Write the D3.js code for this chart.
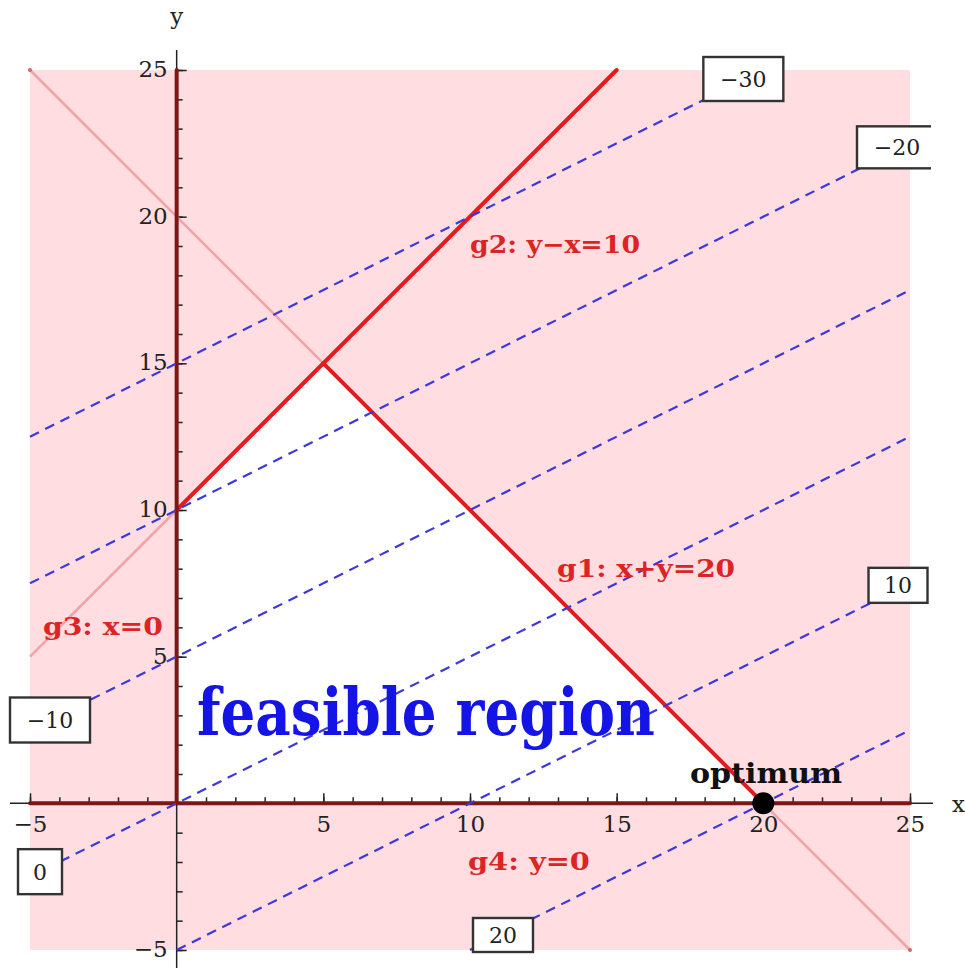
<!DOCTYPE html>
<html>
<head>
<meta charset="utf-8">
<script src="https://cdn.jsdelivr.net/npm/d3@7"></script>
<style>
  body { margin: 0; background: #fff; }
  svg text { font-family: "DejaVu Serif", "Liberation Serif", serif; }
</style>
</head>
<body>
<div id="graphic"></div>
<script>
// data
var xTicks = [-5, 5, 10, 15, 20, 25];
var yTicks = [-5, 5, 10, 15, 20, 25];
var minorTicks = d3.range(-5, 26, 1);
var contourLevels = [-30, -20, -10, 0, 10, 20];          // values of x - 2y
var contourLabelEnd = ["end", "end", "start", "start", "end", "start"];
var feasibleVertices = [[0, 0], [0, 10], [5, 15], [20, 0]];
var constraintNames = ["g1: x+y=20", "g2: y\u2212x=10", "g3: x=0", "g4: y=0"];
var constraintSolid = [[[5, 15], [20, 0]], [[0, 10], [15, 25]], [[0, 0], [0, 25]], [[-5, 0], [25, 0]]];
var constraintFaint = [[[-5, 25], [25, -5]], [[-5, 5], [0, 10]], [], []];
var optimum = [20, 0];

// layout (pixels), not data
var W = 965, H = 968;
var boxLayout = [
  {dx: -20, dy: 9, w: 80, h: 44},
  {dx: -13, dy: 4, w: 80, h: 42},
  {dx: 20, dy: -10, w: 80, h: 45},
  {dx: 10, dy: -5, w: 44, h: 45},
  {dx: -12, dy: 2, w: 59, h: 35},
  {dx: 33, dy: -15, w: 60, h: 34}
];
var constraintLabelPos = [[12.97, 7.72, 178], [10.0, 18.75, 170], [-4.56, 5.74, 120], [9.93, -2.27, 122]];

var svg = d3.select("#graphic").append("svg")
        .attr("width", W)
        .attr("height", H);

var x = d3.scaleLinear().domain([-5, 25]).range([30, 910]);
var y = d3.scaleLinear().domain([-5, 25]).range([950, 70]);

// pink infeasible background
svg.append("rect")
        .attr("x", x(-5))
        .attr("y", y(25))
        .attr("width", x(25) - x(-5))
        .attr("height", y(-5) - y(25))
        .style("fill", "#ffdde1");

// feasible region
svg.append("polygon")
        .attr("points", feasibleVertices.map(function(p) { return x(p[0]) + "," + y(p[1]); }).join(" "))
        .style("fill", "#ffffff");

// axes
var axisG = svg.append("g").attr("class", "axes");

axisG.append("line")
        .attr("x1", 10).attr("x2", 933)
        .attr("y1", y(0)).attr("y2", y(0))
        .style("stroke", "#222").style("stroke-width", 1.5);
axisG.append("line")
        .attr("x1", x(0)).attr("x2", x(0))
        .attr("y1", 50).attr("y2", H)
        .style("stroke", "#222").style("stroke-width", 1.5);

var xMinor = axisG.append("g").attr("transform", "translate(0," + y(0) + ")")
        .call(d3.axisBottom(x).tickValues(minorTicks).tickSizeInner(-6).tickSizeOuter(0).tickFormat(""));
var yMinor = axisG.append("g").attr("transform", "translate(" + x(0) + ",0)")
        .call(d3.axisLeft(y).tickValues(minorTicks).tickSizeInner(-6).tickSizeOuter(0).tickFormat(""));
var xMajor = axisG.append("g").attr("transform", "translate(0," + y(0) + ")")
        .call(d3.axisBottom(x).tickValues(xTicks).tickSizeInner(-10).tickSizeOuter(0).tickPadding(12));
var yMajor = axisG.append("g").attr("transform", "translate(" + x(0) + ",0)")
        .call(d3.axisLeft(y).tickValues(yTicks).tickSizeInner(-10).tickSizeOuter(0).tickPadding(9));

axisG.selectAll(".domain").remove();
axisG.selectAll(".tick line").style("stroke", "#222").style("stroke-width", 1.5);
axisG.selectAll(".tick text")
        .style("font-family", "'DejaVu Serif', serif")
        .style("font-size", "23px")
        .style("fill", "#222");
yMajor.selectAll(".tick text").attr("dy", "0.28em");

svg.append("text").attr("x", 952).attr("y", 812).text("x")
        .style("font-size", "23px").style("fill", "#222");
svg.append("text").attr("x", x(0)).attr("y", 24).attr("text-anchor", "middle").text("y")
        .style("font-size", "23px").style("fill", "#222");

// faint extensions of constraint lines
constraintFaint.forEach(function(seg) {
  if (!seg.length) return;
  svg.append("line")
          .attr("x1", x(seg[0][0])).attr("y1", y(seg[0][1]))
          .attr("x2", x(seg[1][0])).attr("y2", y(seg[1][1]))
          .style("stroke", "#f2a3a6")
          .style("stroke-width", 2.5);
});
svg.selectAll("circle.endpt").data(constraintFaint[0]).enter().append("circle")
        .attr("class", "endpt")
        .attr("cx", function(d) { return x(d[0]); })
        .attr("cy", function(d) { return y(d[1]); })
        .attr("r", 2)
        .style("fill", "#d06a6a");

// solid constraint lines
constraintSolid.forEach(function(seg, i) {
  svg.append("line")
          .attr("x1", x(seg[0][0])).attr("y1", y(seg[0][1]))
          .attr("x2", x(seg[1][0])).attr("y2", y(seg[1][1]))
          .style("stroke", i < 2 ? "#e31b1b" : "#7e1616")
          .style("stroke-width", 4)
          .style("stroke-linecap", "round");
});

// objective contours x - 2y = c, clipped to plot range
var ends = contourLevels.map(function(c) {
  var x0 = Math.max(-5, c - 10), x1 = Math.min(25, c + 50);
  return [[x0, (x0 - c) / 2], [x1, (x1 - c) / 2]];
});

svg.selectAll("line.contour").data(ends).enter().append("line")
        .attr("class", "contour")
        .attr("x1", function(d) { return x(d[0][0]); })
        .attr("y1", function(d) { return y(d[0][1]); })
        .attr("x2", function(d) { return x(d[1][0]); })
        .attr("y2", function(d) { return y(d[1][1]); })
        .style("stroke", "#3f38d8")
        .style("stroke-width", 2.2)
        .style("stroke-dasharray", "10,7");

// constraint labels
constraintNames.forEach(function(name, i) {
  var p = constraintLabelPos[i];
  svg.append("text")
          .attr("x", x(p[0])).attr("y", y(p[1]))
          .attr("textLength", p[2])
          .attr("lengthAdjust", "spacingAndGlyphs")
          .text(name)
          .style("font-size", "24px")
          .style("font-weight", "bold")
          .style("fill", "#dc2424");
});

svg.append("text")
        .attr("x", x(0.69)).attr("y", y(2.33))
        .attr("textLength", 458)
        .attr("lengthAdjust", "spacingAndGlyphs")
        .text("feasible region")
        .style("font-size", "66px")
        .style("font-weight", "bold")
        .style("fill", "#1414e6");

svg.append("text")
        .attr("x", x(17.5)).attr("y", y(0.69))
        .attr("textLength", 152)
        .attr("lengthAdjust", "spacingAndGlyphs")
        .text("optimum")
        .style("font-size", "27px")
        .style("font-weight", "bold")
        .style("fill", "#111");

svg.append("circle")
        .attr("cx", x(optimum[0])).attr("cy", y(optimum[1]))
        .attr("r", 11)
        .style("fill", "#000");

// contour value boxes
svg.append("clipPath").attr("id", "clip-labels")
        .append("rect").attr("x", 0).attr("y", 0).attr("width", 931).attr("height", H);

var boxG = svg.append("g").attr("clip-path", "url(#clip-labels)");
contourLevels.forEach(function(c, i) {
  var e = contourLabelEnd[i] === "start" ? ends[i][0] : ends[i][1];
  var b = boxLayout[i];
  var cx = x(e[0]) + b.dx, cy = y(e[1]) + b.dy;
  boxG.append("rect")
          .attr("x", cx - b.w / 2).attr("y", cy - b.h / 2)
          .attr("width", b.w).attr("height", b.h)
          .style("fill", "#fff")
          .style("stroke", "#333")
          .style("stroke-width", 2.4);
  boxG.append("text")
          .attr("x", cx).attr("y", cy)
          .attr("dy", "0.36em")
          .attr("text-anchor", "middle")
          .text(d3.format("")(c))
          .style("font-size", "22px")
          .style("fill", "#222");
});
</script>
</body>
</html>
